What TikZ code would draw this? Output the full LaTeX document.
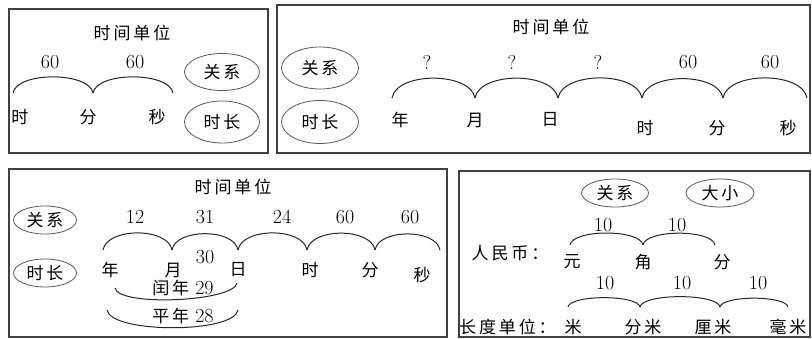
\documentclass[tikz,border=0pt]{standalone}
\usepackage{fontspec}
\usetikzlibrary{positioning,shapes.geometric}
\newfontfamily\zhfont{Noto Sans CJK SC}
\newcommand{\zh}[1]{{\zhfont\fontsize{17}{19}\selectfont #1}}
% a little room between the ideographs
\newXeTeXintercharclass\zhclass
\newcount\zhc
\zhc="4E00
\loop \XeTeXcharclass\zhc=\zhclass \advance\zhc by 1 \ifnum\zhc<"A000 \repeat
\XeTeXcharclass"FF1A=\zhclass
\XeTeXinterchartokenstate=1
\XeTeXinterchartoks\zhclass\zhclass={\kern.17em}

\begin{document}
\begin{tikzpicture}[x=1pt, y=-1pt]
\tikzset{
    every node/.style = {inner sep=1pt, font=\fontsize{20}{22}\selectfont},
    word/.style = {font=\zhfont\fontsize{17}{19}\selectfont},
    panel/.style = {draw=black!75, line width=1.3pt},
    tag/.style = {draw=black!65, ellipse, line width=.8pt, inner sep=0pt, word},
    arch/.style = {draw=black!85, line width=1pt, out=80, in=100},
    cup/.style = {draw=black!85, line width=1pt, out=-80, in=-100}
}
\useasboundingbox (0,0) rectangle (812,338);

% ------------------------------------------------------- panel 1
\draw[panel] (9,9) rectangle (268,153);
\node[word] (title1) at (132,33) {时间单位};
\node (n11) at (50,62) {60};
\node (n12) at (135,62) {60};
\coordinate (a11) at (13,93);
\coordinate (a12) at (93,93);
\coordinate (a13) at (173,93);
\node[word] (hour1) at (20,117) {时};
\node[word] (min1) at (88,117) {分};
\node[word] (sec1) at (157,117) {秒};
\node[tag, minimum width=75pt, minimum height=37pt] (rel1) at (222,72) {关系};
\node[tag, minimum width=75pt, minimum height=42pt] (len1) at (222,122) {时长};

\path (a11) edge[arch, looseness=.7] (a12);
\path (a12) edge[arch, looseness=.7] (a13);

% ------------------------------------------------------- panel 2
\draw[panel] (277,5) rectangle (810,153);
\node[word] (title2) at (551,27) {时间单位};
\node[tag, minimum width=77pt, minimum height=42pt] (rel2) at (320,68) {关系};
\node[tag, minimum width=77pt, minimum height=43pt] (len2) at (320,122) {时长};
\node (n21) at (427,62) {?};
\node (n22) at (512,62) {?};
\node (n23) at (598,62) {?};
\node (n24) at (688,62) {60};
\node (n25) at (770,62) {60};
\coordinate (a21) at (392,98);
\coordinate (a22) at (475,98);
\coordinate (a23) at (558,98);
\coordinate (a24) at (642,98);
\coordinate (a25) at (723,98);
\coordinate (a26) at (807,98);
\node[word] (year2) at (400,120) {年};
\node[word] (month2) at (475,120) {月};
\node[word] (day2) at (550,120) {日};
\node[word] (hour2) at (645,128) {时};
\node[word] (min2) at (717,128) {分};
\node[word] (sec2) at (788,128) {秒};

\path (a21) edge[arch, looseness=.83] (a22);
\path (a22) edge[arch, looseness=.83] (a23);
\path (a23) edge[arch, looseness=.83] (a24);
\path (a24) edge[arch, looseness=.83] (a25);
\path (a25) edge[arch, looseness=.83] (a26);

% ------------------------------------------------------- panel 3
\draw[panel] (9,169) rectangle (447,337);
\node[word] (title3) at (233,187) {时间单位};
\node[tag, minimum width=63pt, minimum height=28pt] (rel3) at (45,220) {关系};
\node[tag, minimum width=63pt, minimum height=28pt] (len3) at (45,273) {时长};
\node (n31) at (135,217) {12};
\node (n32) at (205,217) {31};
\node (n33) at (282,217) {24};
\node (n34) at (345,217) {60};
\node (n35) at (410,217) {60};
\node (n36) at (205,257) {30};
\coordinate (a31) at (103,250);
\coordinate (a32) at (172,250);
\coordinate (a33) at (238,250);
\coordinate (a34) at (307,250);
\coordinate (a35) at (375,250);
\coordinate (a36) at (440,250);
\node[word] (year3) at (110,270) {年};
\node[word] (month3) at (173,270) {月};
\node[word] (day3) at (238,270) {日};
\node[word] (hour3) at (310,270) {时};
\node[word] (min3) at (370,270) {分};
\node[word] (sec3) at (422,275) {秒};
\coordinate (c31) at (115,288);
\coordinate (c32) at (237,283);
\coordinate (c33) at (107,310);
\coordinate (c34) at (238,310);
\node (leap) at (183,288) {\zh{闰年} 29};
\node (common) at (183,316) {\zh{平年} 28};

\path (a31) edge[arch, looseness=.86] (a32);
\path (a32) edge[arch, looseness=.86] (a33);
\path (a33) edge[arch, looseness=.86] (a34);
\path (a34) edge[arch, looseness=.86] (a35);
\path (a35) edge[arch, looseness=.86] (a36);
\path (c31) edge[cup, looseness=.4] (c32);
\path (c33) edge[cup, looseness=.47] (c34);

% ------------------------------------------------------- panel 4
\draw[panel] (459,171) rectangle (810,337);
\node[tag, minimum width=67pt, minimum height=28pt] (rel4) at (615,193) {关系};
\node[tag, minimum width=68pt, minimum height=28pt] (size4) at (720,193) {大小};

\node[word] (rmb) at (510,253) {人民币：};
\node (n41) at (603,225) {10};
\node (n42) at (677,225) {10};
\coordinate (a41) at (570,245);
\coordinate (a42) at (643,245);
\coordinate (a43) at (715,245);
\node[word] (yuan) at (572,262) {元};
\node[word] (jiao) at (643,262) {角};
\node[word] (fen) at (722,262) {分};

\node[word, anchor=west, inner sep=0pt] (length) at (459,327) {长度单位：};
\node (n43) at (605,283) {10};
\node (n44) at (682,283) {10};
\node (n45) at (758,283) {10};
\coordinate (a44) at (568,307);
\coordinate (a45) at (640,307);
\coordinate (a46) at (720,307);
\coordinate (a47) at (788,307);
\node[word] (m) at (573,327) {米};
\node[word] (dm) at (643,327) {分米};
\node[word] (cm) at (713,327) {厘米};
\node[word] (mm) at (788,327) {毫米};

\path (a41) edge[arch, looseness=.57] (a42);
\path (a42) edge[arch, looseness=.57] (a43);
\path (a44) edge[arch, looseness=.45] (a45);
\path (a45) edge[arch, looseness=.45] (a46);
\path (a46) edge[arch, looseness=.45] (a47);
\end{tikzpicture}
\end{document}
